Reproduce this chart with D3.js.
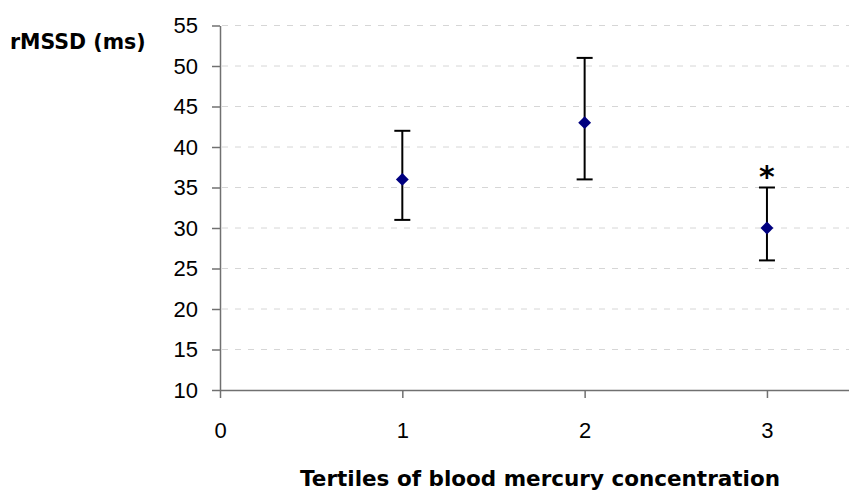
<!DOCTYPE html>
<html><head><meta charset="utf-8">
<script src="https://cdn.jsdelivr.net/npm/d3@7"></script>
<style>body{margin:0;background:#fff}svg{display:block}</style>
</head><body>
<svg id="c" width="849" height="491"></svg>
<script>
const categories = [1, 2, 3];
const means = [36, 43, 30];
const lower = [31, 36, 26];
const upper = [42, 51, 35];
const marks = ["", "", "*"];
const yTicks = [10, 15, 20, 25, 30, 35, 40, 45, 50, 55];
const xTicks = [0, 1, 2, 3];

const svg = d3.select("#c");
const x = d3.scaleLinear().domain([0, 3.45]).range([220, 849]);
const y = d3.scaleLinear().domain([10, 55]).range([390, 25.5]);

// gridlines
svg.append("g").selectAll("line").data(yTicks.filter(d => d > 10)).join("line")
  .attr("x1", 222).attr("x2", 849)
  .attr("y1", d => y(d)).attr("y2", d => y(d))
  .attr("stroke", "#d6d6d6").attr("stroke-width", 1).attr("stroke-dasharray", "6,7");

const tickFont = "Liberation Sans, Arial, sans-serif";
const yAxis = svg.append("g").attr("transform", "translate(220,0)")
  .call(d3.axisLeft(y).tickValues(yTicks).tickSize(8).tickPadding(14).tickSizeOuter(0));
yAxis.attr("font-size", null).attr("font-family", null);
yAxis.select(".domain").attr("stroke", "#707070").attr("stroke-width", 1.5);
yAxis.selectAll(".tick line").attr("stroke", "#707070").attr("stroke-width", 1.5);
yAxis.selectAll("text").style("font-family", tickFont).style("font-size", "22px").attr("fill", "#000");

const xAxis = svg.append("g").attr("transform", "translate(0,390)")
  .call(d3.axisBottom(x).tickValues(xTicks).tickFormat(d3.format("d")).tickSize(8).tickPadding(24).tickSizeOuter(0));
xAxis.attr("font-size", null).attr("font-family", null);
xAxis.select(".domain").attr("stroke", "#707070").attr("stroke-width", 1.5);
xAxis.selectAll(".tick line").attr("stroke", "#707070").attr("stroke-width", 1.5);
xAxis.selectAll("text").style("font-family", tickFont).style("font-size", "22px").attr("fill", "#000");

// error bars
const g = svg.append("g");
categories.forEach((c, i) => {
  const cx = x(c);
  g.append("line").attr("x1", cx).attr("x2", cx).attr("y1", y(lower[i])).attr("y2", y(upper[i]))
    .attr("stroke", "#000").attr("stroke-width", 2);
  [lower[i], upper[i]].forEach(v => {
    g.append("line").attr("x1", cx - 8).attr("x2", cx + 8).attr("y1", y(v)).attr("y2", y(v))
      .attr("stroke", "#000").attr("stroke-width", 2);
  });
  g.append("path").attr("d", d3.symbol(d3.symbolDiamond2, 105)())
    .attr("transform", `translate(${cx},${y(means[i])})`).attr("fill", "#000080");
  if (marks[i]) {
    g.append("text").attr("x", cx).attr("y", y(upper[i]) - 1).attr("text-anchor", "middle")
      .style("font-family", "DejaVu Sans, sans-serif").style("font-weight", "bold").style("font-size", "30px")
      .text(marks[i]);
  }
});

svg.append("text").attr("x", 10).attr("y", 48.5)
  .style("font-family", "DejaVu Sans, Verdana, sans-serif").style("font-weight", "bold").style("font-size", "20.5px")
  .text("rMSSD (ms)");
svg.append("text").attr("x", 540).attr("y", 486).attr("text-anchor", "middle")
  .style("font-family", "DejaVu Sans, Verdana, sans-serif").style("font-weight", "bold").style("font-size", "21.5px")
  .text("Tertiles of blood mercury concentration");
</script>
</body></html>
